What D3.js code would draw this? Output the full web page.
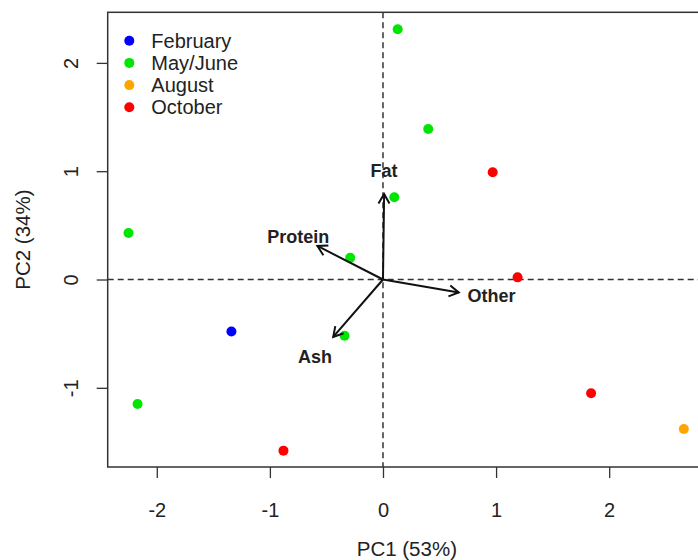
<!DOCTYPE html>
<html>
<head>
<meta charset="utf-8">
<script src="https://cdn.jsdelivr.net/npm/d3@7"></script>
<style>
  body { margin: 0; background: #fff; }
  text { font-family: "Liberation Sans", Arial, sans-serif; fill: #222; }
</style>
</head>
<body>
<div class="chart"></div>
<script>
// scores per sample (PC1, PC2) and season group
const pc1 = [-1.34, 0.13, 0.40, 0.10, -2.25, -0.29, -0.34, -2.17, 2.66, 0.97, 1.19, 1.84, -0.88];
const pc2 = [-0.48, 2.31, 1.39, 0.76, 0.43, 0.20, -0.52, -1.15, -1.38, 0.99, 0.02, -1.05, -1.58];
const season = ["February", "May/June", "May/June", "May/June", "May/June", "May/June", "May/June",
  "May/June", "August", "October", "October", "October", "October"];

// loadings (arrows) and where their labels sit
const variables = ["Fat", "Protein", "Other", "Ash"];
const loadX = [0.01, -0.58, 0.67, -0.44];
const loadY = [0.79, 0.31, -0.12, -0.53];
const labelX = [0.01, -0.75, 0.96, -0.60];
const labelY = [1.00, 0.39, -0.15, -0.72];

const seasons = ["February", "May/June", "August", "October"];
const seasonColors = ["#0000ff", "#00e600", "#ffa500", "#ff0000"];

const xTicks = [-2, -1, 0, 1, 2];
const yTicks = [-1, 0, 1, 2];

// dimensions
const width = 698, height = 560;
const pLeft = 107.7, pRight = 706, pTop = 12.3, pBottom = 467;

const svg = d3.select(".chart").append("svg")
  .attr("width", width)
  .attr("height", height);

const x = d3.scaleLinear().domain([-2.434, 2.856]).range([pLeft, pRight]);
const y = d3.scaleLinear().domain([-1.731, 2.467]).range([pBottom, pTop]);
const color = d3.scaleOrdinal().domain(seasons).range(seasonColors);

svg.append("defs").append("clipPath").attr("id", "plotclip")
  .append("rect").attr("x", pLeft).attr("y", pTop)
  .attr("width", pRight - pLeft).attr("height", pBottom - pTop);

const plot = svg.append("g").attr("clip-path", "url(#plotclip)");

// dashed zero lines
plot.append("line")
  .attr("x1", pLeft).attr("x2", pRight).attr("y1", y(0)).attr("y2", y(0))
  .attr("stroke", "#333").attr("stroke-width", 1.5).attr("stroke-dasharray", "6,4");
plot.append("line")
  .attr("x1", x(0)).attr("x2", x(0)).attr("y1", pTop).attr("y2", pBottom)
  .attr("stroke", "#333").attr("stroke-width", 1.5).attr("stroke-dasharray", "6,4");

// points
const points = pc1.map((v, i) => ({x: v, y: pc2[i], s: season[i]}));
plot.selectAll("circle.pt")
  .data(points)
  .enter()
  .append("circle")
    .attr("class", "pt")
    .attr("cx", d => x(d.x))
    .attr("cy", d => y(d.y))
    .attr("r", 5)
    .attr("fill", d => color(d.s));

// arrows for loadings
const arrows = variables.map((v, i) => ({name: v, x: loadX[i], y: loadY[i], lx: labelX[i], ly: labelY[i]}));
const headLen = 11, headAng = Math.PI / 6;
const ag = plot.selectAll("g.arrow").data(arrows).enter().append("g").attr("class", "arrow");
ag.append("line")
  .attr("x1", x(0)).attr("y1", y(0))
  .attr("x2", d => x(d.x)).attr("y2", d => y(d.y))
  .attr("stroke", "#111").attr("stroke-width", 2);
ag.append("path")
  .attr("d", function(d) {
    const x2 = x(d.x), y2 = y(d.y);
    const a = Math.atan2(y2 - y(0), x2 - x(0));
    const p1 = [x2 - headLen * Math.cos(a - headAng), y2 - headLen * Math.sin(a - headAng)];
    const p2 = [x2 - headLen * Math.cos(a + headAng), y2 - headLen * Math.sin(a + headAng)];
    return "M" + p1 + "L" + x2 + "," + y2 + "L" + p2;
  })
  .attr("fill", "none").attr("stroke", "#111").attr("stroke-width", 2);
ag.append("text")
  .attr("x", d => x(d.lx)).attr("y", d => y(d.ly))
  .attr("text-anchor", "middle").attr("dominant-baseline", "central")
  .style("font-size", "18px").style("font-weight", "bold")
  .text(d => d.name);

// box
svg.append("rect")
  .attr("x", pLeft).attr("y", pTop).attr("width", pRight - pLeft).attr("height", pBottom - pTop)
  .attr("fill", "none").attr("stroke", "#333").attr("stroke-width", 1.5);

// axes
const xAxis = svg.append("g")
  .attr("transform", "translate(0," + pBottom + ")")
  .call(d3.axisBottom(x).tickValues(xTicks).tickSize(11).tickFormat(d => String(d)));
xAxis.select(".domain").remove();
xAxis.selectAll("line").attr("stroke", "#333").attr("stroke-width", 1.3);
xAxis.selectAll("text")
  .attr("y", 42.5).attr("dy", "0.35em")
  .style("font-size", "20px").attr("fill", "#222");

const yAxis = svg.append("g")
  .attr("transform", "translate(" + pLeft + ",0)")
  .call(d3.axisLeft(y).tickValues(yTicks).tickSize(11).tickFormat(d => String(d)));
yAxis.select(".domain").remove();
yAxis.selectAll("line").attr("stroke", "#333").attr("stroke-width", 1.3);
yAxis.selectAll("text")
  .attr("transform", "rotate(-90)")
  .attr("x", 0).attr("y", -37).attr("dy", null)
  .attr("text-anchor", "middle").attr("dominant-baseline", "central")
  .style("font-size", "20px").attr("fill", "#222");

// axis titles
svg.append("text")
  .attr("x", (pLeft + pRight) / 2).attr("y", 548)
  .attr("text-anchor", "middle").attr("dominant-baseline", "central")
  .style("font-size", "20.5px")
  .text("PC1 (53%)");
svg.append("text")
  .attr("transform", "translate(22," + (pTop + pBottom) / 2 + ") rotate(-90)")
  .attr("text-anchor", "middle").attr("dominant-baseline", "central")
  .style("font-size", "20.5px")
  .text("PC2 (34%)");

// legend
const legend = svg.selectAll("g.legend")
  .data(seasons)
  .enter()
  .append("g")
    .attr("class", "legend")
    .attr("transform", (d, i) => "translate(129.3," + (40.7 + i * 22.2) + ")");
legend.append("circle").attr("r", 5).attr("fill", d => color(d));
legend.append("text")
  .attr("x", 22).attr("dominant-baseline", "central")
  .style("font-size", "20px")
  .text(d => d);
</script>
</body>
</html>
